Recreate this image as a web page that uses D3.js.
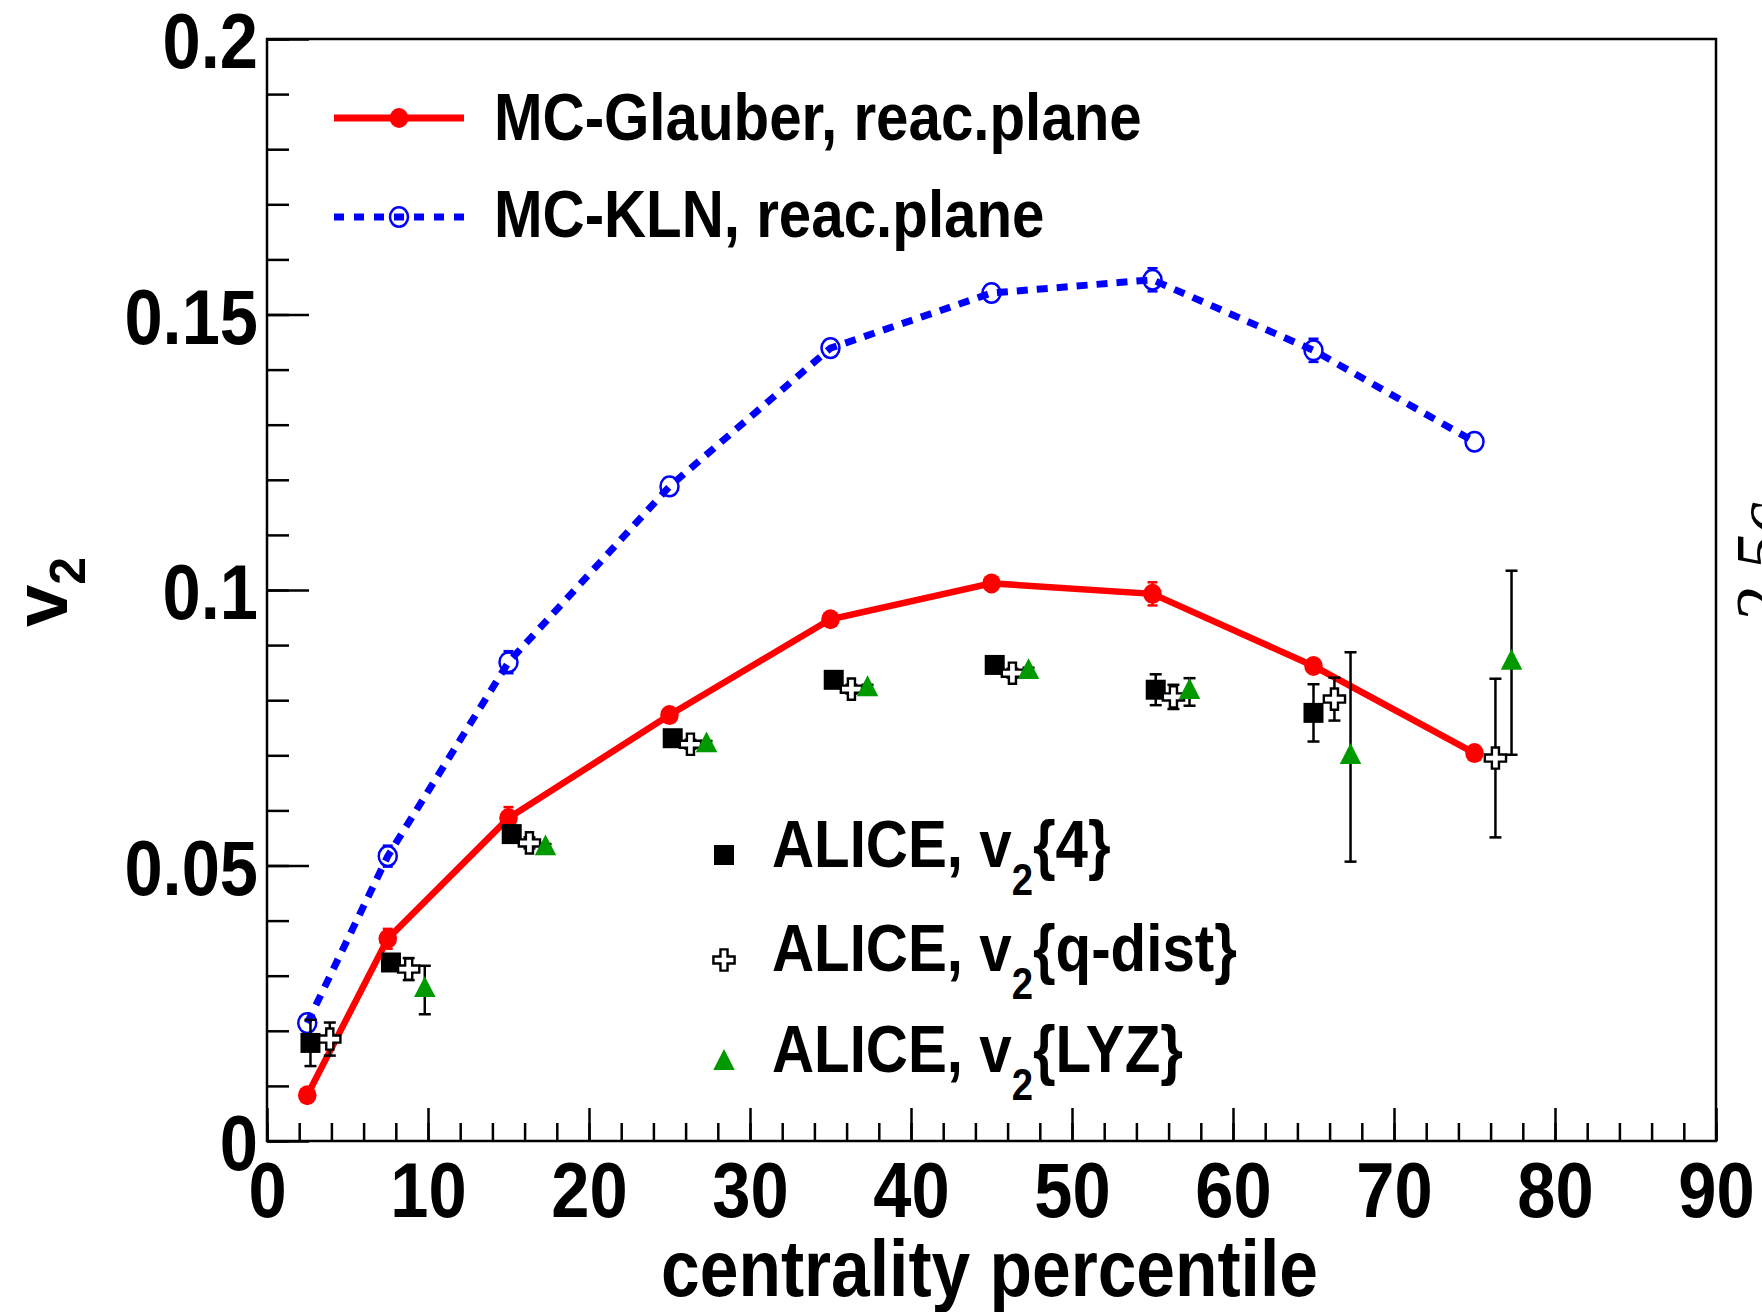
<!DOCTYPE html>
<html><head><meta charset="utf-8">
<script src="https://cdn.jsdelivr.net/npm/d3@7"></script>
<style>html,body{margin:0;padding:0;background:#fff;} svg{display:block;}</style>
</head><body>
<svg id="chart" width="1762" height="1312"></svg>
<script>
// ---- data ----
const centers = [2.5, 7.5, 15, 25, 35, 45, 55, 65, 75];
const glauberV2 = [0.0083, 0.0367, 0.0586, 0.0773, 0.0947, 0.1012, 0.0993, 0.0862, 0.0704];
const glauberErr = [0.0005, 0.0018, 0.0020, 0.0008, 0.0008, 0.0008, 0.0021, 0.0010, 0.0008];
const klnV2 = [0.0214, 0.0517, 0.0869, 0.1188, 0.1439, 0.1539, 0.1563, 0.1435, 0.1269];
const klnErr = [0.0012, 0.0019, 0.0020, 0.0008, 0.0008, 0.0008, 0.0021, 0.0021, 0.0008];

const v24X = [2.7, 7.7, 15.2, 25.2, 35.2, 45.2, 55.2, 65.0];
const v24 = [0.0178, 0.0324, 0.0557, 0.0731, 0.0837, 0.0864, 0.0819, 0.0777];
const v24Err = [0.0042, 0.0010, 0.0010, 0.0008, 0.0008, 0.0008, 0.0028, 0.0052];

const qdistX = [3.9, 8.8, 16.3, 26.3, 36.3, 46.3, 56.3, 66.3, 76.3];
const qdist = [0.0185, 0.0312, 0.0541, 0.0720, 0.0820, 0.0849, 0.0806, 0.0802, 0.0695];
const qdistErr = [0.0030, 0.0020, 0.0010, 0.0008, 0.0008, 0.0008, 0.0022, 0.0039, 0.0144];

const lyzX = [9.8, 17.3, 27.3, 37.3, 47.3, 57.3, 67.3, 77.3];
const lyz = [0.0274, 0.0531, 0.0718, 0.0820, 0.0851, 0.0815, 0.0697, 0.0868];
const lyzErr = [0.0044, 0.0008, 0.0008, 0.0008, 0.0008, 0.0025, 0.0190, 0.0167];

const xMajorTicks = [0, 10, 20, 30, 40, 50, 60, 70, 80, 90];
const xTickLabels = ["0", "10", "20", "30", "40", "50", "60", "70", "80", "90"];
const yMajorTicks = [0, 0.05, 0.1, 0.15, 0.2];
const yTickLabels = ["0", "0.05", "0.1", "0.15", "0.2"];

const xTitle = "centrality percentile";
const modelLabels = ["MC-Glauber, reac.plane", "MC-KLN, reac.plane"];
const aliceLabels = [["ALICE, v", "2", "{4}"], ["ALICE, v", "2", "{q-dist}"], ["ALICE, v", "2", "{LYZ}"]];

// ---- layout ----
const L = 267, R = 1716, T = 39, B = 1141;
const FONT = "'Liberation Sans', Arial, Helvetica, sans-serif";
const SX = 0.88;
const svg = d3.select("#chart");
const x = d3.scaleLinear().domain([0, 90]).range([L, R]);
const y = d3.scaleLinear().domain([0, 0.2]).range([B, T]);

// axes (ticks inside)
const xMinor = d3.range(0, 90.001, 2);
const yMinor = d3.range(0, 0.2001, 0.01);
svg.append("g").attr("transform", `translate(0,${B})`)
  .call(d3.axisBottom(x).tickValues(xMinor).tickSizeInner(-18).tickSizeOuter(0).tickFormat(""))
  .call(g => g.select(".domain").remove());
const gx = svg.append("g").attr("transform", `translate(0,${B})`)
  .call(d3.axisBottom(x).tickValues(xMajorTicks).tickSizeInner(-33).tickSizeOuter(0).tickPadding(21)
    .tickFormat((d, i) => xTickLabels[i]))
  .call(g => g.select(".domain").remove());
svg.append("g").attr("transform", `translate(${L},0)`)
  .call(d3.axisLeft(y).tickValues(yMinor).tickSizeInner(-22).tickSizeOuter(0).tickFormat(""))
  .call(g => g.select(".domain").remove());
const gy = svg.append("g").attr("transform", `translate(${L},0)`)
  .call(d3.axisLeft(y).tickValues(yMajorTicks).tickSizeInner(-42).tickSizeOuter(0).tickPadding(9)
    .tickFormat((d, i) => yTickLabels[i]))
  .call(g => g.select(".domain").remove());
svg.selectAll(".tick line").attr("stroke", "#000").attr("stroke-width", 2.5);
gx.selectAll("text").attr("font-family", FONT).attr("font-weight", "bold").attr("font-size", 78)
  .attr("fill", "#000").attr("transform", `scale(${SX},1)`);
gy.selectAll("text").attr("font-family", FONT).attr("font-weight", "bold").attr("font-size", 78)
  .attr("fill", "#000").attr("x", -9 / SX).attr("dy", "0.37em").attr("transform", `scale(${SX},1)`);

// frame
svg.append("rect").attr("x", L).attr("y", T).attr("width", R - L).attr("height", B - T)
  .attr("fill", "none").attr("stroke", "#000").attr("stroke-width", 2.5);

// titles
svg.append("text").attr("transform", `translate(${(L + R) / 2 - 2},1296) scale(${SX},1)`)
  .attr("text-anchor", "middle").attr("font-family", FONT).attr("font-weight", "bold")
  .attr("font-size", 79).text(xTitle);
const yt = svg.append("text").attr("transform", "translate(67,627) rotate(-90)")
  .attr("font-family", FONT).attr("font-weight", "bold").attr("font-size", 76);
yt.append("tspan").text("v");
yt.append("tspan").attr("font-size", 50).attr("dy", 18).text("2");

// error bars helper (ROOT style: gap around marker, end caps)
function errBars(xs, ys, es, color, cap, gap) {
  const g = svg.append("g").attr("stroke", color).attr("stroke-width", 2.5);
  xs.forEach((xv, i) => {
    const px = x(xv), py = y(ys[i]), y1 = y(ys[i] + es[i]), y0 = y(ys[i] - es[i]);
    if (py - y1 <= gap) return;
    g.append("line").attr("x1", px).attr("x2", px).attr("y1", y1).attr("y2", py - gap);
    g.append("line").attr("x1", px).attr("x2", px).attr("y1", py + gap).attr("y2", y0);
    g.append("line").attr("x1", px - cap).attr("x2", px + cap).attr("y1", y1).attr("y2", y1);
    g.append("line").attr("x1", px - cap).attr("x2", px + cap).attr("y1", y0).attr("y2", y0);
  });
}
const line = d3.line().x(d => x(d[0])).y(d => y(d[1]));

// KLN (blue dashed)
errBars(centers, klnV2, klnErr, "#0000ff", 5, 9);
svg.append("path").datum(centers.map((c, i) => [c, klnV2[i]])).attr("d", line)
  .attr("fill", "none").attr("stroke", "#0000ff").attr("stroke-width", 7).attr("stroke-dasharray", "11,9");
svg.append("g").selectAll("ellipse").data(centers).join("ellipse")
  .attr("cx", d => x(d)).attr("cy", (d, i) => y(klnV2[i])).attr("rx", 9).attr("ry", 9.8)
  .attr("fill", "none").attr("stroke", "#0000ff").attr("stroke-width", 2.5);

// Glauber (red solid)
errBars(centers, glauberV2, glauberErr, "#ff0000", 5, 8);
svg.append("path").datum(centers.map((c, i) => [c, glauberV2[i]])).attr("d", line)
  .attr("fill", "none").attr("stroke", "#ff0000").attr("stroke-width", 6.5);
svg.append("g").selectAll("ellipse").data(centers).join("ellipse")
  .attr("cx", d => x(d)).attr("cy", (d, i) => y(glauberV2[i])).attr("rx", 9.3).attr("ry", 10)
  .attr("fill", "#ff0000");

// ALICE data
const symSquare = d3.symbol().type(d3.symbolSquare).size(400);
const symCross = d3.symbol().type(d3.symbolCross).size(250);
const symTri = d3.symbol().type(d3.symbolTriangle).size(200);

errBars(v24X, v24, v24Err, "#000", 6, 0);
svg.append("g").selectAll("path").data(v24X).join("path")
  .attr("d", symSquare).attr("transform", (d, i) => `translate(${x(d)},${y(v24[i])})`).attr("fill", "#000");

errBars(qdistX, qdist, qdistErr, "#000", 6, 0);
svg.append("g").selectAll("path").data(qdistX).join("path")
  .attr("d", symCross).attr("transform", (d, i) => `translate(${x(d)},${y(qdist[i])})`)
  .attr("fill", "#fff").attr("stroke", "#000").attr("stroke-width", 2.4);

errBars(lyzX, lyz, lyzErr, "#000", 6, 0);
svg.append("g").selectAll("path").data(lyzX).join("path")
  .attr("d", symTri).attr("transform", (d, i) => `translate(${x(d)},${y(lyz[i])}) scale(1,1.12)`).attr("fill", "#009900");

// legend 1
const leg1Y = [118, 217];
svg.append("line").attr("x1", 334).attr("x2", 464).attr("y1", leg1Y[0]).attr("y2", leg1Y[0])
  .attr("stroke", "#ff0000").attr("stroke-width", 7);
svg.append("ellipse").attr("cx", 399).attr("cy", leg1Y[0]).attr("rx", 9.3).attr("ry", 10).attr("fill", "#ff0000");
svg.append("line").attr("x1", 334).attr("x2", 464).attr("y1", leg1Y[1]).attr("y2", leg1Y[1])
  .attr("stroke", "#0000ff").attr("stroke-width", 7).attr("stroke-dasharray", "10,10");
svg.append("ellipse").attr("cx", 399).attr("cy", leg1Y[1]).attr("rx", 9).attr("ry", 9.8)
  .attr("fill", "none").attr("stroke", "#0000ff").attr("stroke-width", 2.5);
[140, 237].forEach((by, i) => {
  svg.append("text").attr("transform", `translate(494,${by}) scale(0.87,1)`)
    .attr("font-family", FONT).attr("font-weight", "bold").attr("font-size", 67).text(modelLabels[i]);
});

// legend 2
const leg2MarkY = [855, 960, 1063];
const leg2TextY = [867, 971, 1072];
svg.append("path").attr("d", symSquare).attr("transform", `translate(724,${leg2MarkY[0]})`).attr("fill", "#000");
svg.append("path").attr("d", symCross).attr("transform", `translate(724,${leg2MarkY[1]})`)
  .attr("fill", "#fff").attr("stroke", "#000").attr("stroke-width", 2.4);
svg.append("path").attr("d", symTri).attr("transform", `translate(724,${leg2MarkY[2]}) scale(1,1.12)`).attr("fill", "#009900");
aliceLabels.forEach((parts, i) => {
  const t = svg.append("text").attr("transform", `translate(772,${leg2TextY[i]}) scale(0.87,1)`)
    .attr("font-family", FONT).attr("font-weight", "bold").attr("font-size", 67);
  t.append("tspan").text(parts[0]);
  t.append("tspan").attr("font-size", 44).attr("dy", 28).text(parts[1]);
  t.append("tspan").attr("dy", -28).text(parts[2]);
});

// clipped fragment of neighbouring panel at right edge
svg.append("text").attr("transform", "translate(1785,624) rotate(-90)")
  .attr("font-family", "'Liberation Serif', 'DejaVu Serif', serif").attr("font-style", "italic")
  .attr("font-size", 72).text("2.5c");
</script>
</body></html>
